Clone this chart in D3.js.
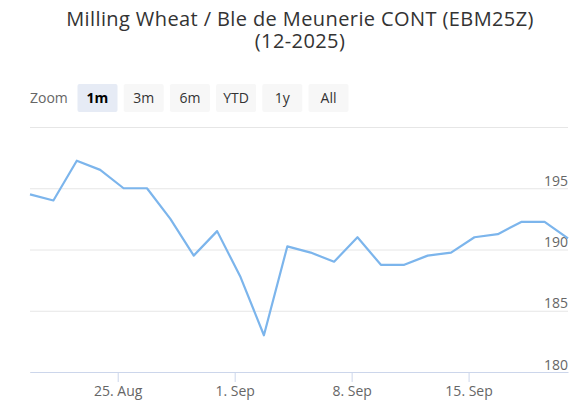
<!DOCTYPE html>
<html>
<head>
<meta charset="utf-8">
<script src="https://cdn.jsdelivr.net/npm/d3@7/dist/d3.min.js"></script>
<style>
  body { margin: 0; background: #fff; }
  svg { font-family: "Open Sans", "Noto Sans", sans-serif; display: block; }
</style>
</head>
<body>
<div id="chart"></div>
<script>
var width = 583;
var height = 403;

// trading days (closing at 18:00), ordinal x axis skips weekends
var dates = ["2025-08-19", "2025-08-20", "2025-08-21", "2025-08-22",
  "2025-08-25", "2025-08-26", "2025-08-27", "2025-08-28", "2025-08-29",
  "2025-09-01", "2025-09-02", "2025-09-03", "2025-09-04", "2025-09-05",
  "2025-09-08", "2025-09-09", "2025-09-10", "2025-09-11", "2025-09-12",
  "2025-09-15", "2025-09-16", "2025-09-17", "2025-09-18", "2025-09-19"];
var prices = [194.5, 194.0, 197.25, 196.5, 195.0, 195.0, 192.5, 189.5, 191.5,
  187.75, 183.0, 190.25, 189.75, 189.0, 191.0, 188.75, 188.75, 189.5, 189.75,
  191.0, 191.25, 192.25, 192.25, 190.9];
var yTicks = [180, 185, 190, 195, 200];
var yLabels = [180, 185, 190, 195];
var buttons = ["1m", "3m", "6m", "YTD", "1y", "All"];
var selectedButton = "1m";
var titleLines = ["Milling Wheat / Ble de Meunerie CONT (EBM25Z)", "(12-2025)"];

var margin = {left: 30, right: 15, top: 127, bottom: 31};

var parseTime = d3.timeParse("%Y-%m-%d %H:%M");
var times = dates.map(function(d) { return parseTime(d + " 18:00"); });

var svg = d3.select("#chart").append("svg")
    .attr("width", width)
    .attr("height", height);

// title, one text per line
svg.selectAll(".title")
    .data(titleLines)
  .enter().append("text")
    .attr("class", "title")
    .attr("x", 300)
    .attr("y", function(d, i) { return 26 + i * 22; })
    .attr("text-anchor", "middle")
    .style("font-size", "20px")
    .style("letter-spacing", "0.4px")
    .style("fill", "#333333")
    .text(function(d) { return d; });

// range selector
svg.append("text")
    .attr("x", 30)
    .attr("y", 98)
    .attr("dy", ".35em")
    .style("font-size", "14px")
    .style("fill", "#666666")
    .text("Zoom");

var btn = svg.selectAll(".btn")
    .data(buttons)
  .enter().append("g")
    .attr("class", "btn")
    .attr("transform", function(d, i) { return "translate(" + (77.5 + i * 46.2) + ",84)"; });

btn.append("rect")
    .attr("width", 40)
    .attr("height", 28)
    .attr("rx", 2)
    .attr("fill", function(d) { return d == selectedButton ? "#e6ebf5" : "#f7f7f7"; });

btn.append("text")
    .attr("x", 20)
    .attr("y", 14)
    .attr("dy", ".35em")
    .attr("text-anchor", "middle")
    .style("font-size", "14px")
    .style("font-weight", function(d) { return d == selectedButton ? "bold" : "normal"; })
    .style("fill", function(d) { return d == selectedButton ? "#000000" : "#333333"; })
    .text(function(d) { return d; });

// scales
var x = d3.scaleLinear()
    .domain([0, prices.length - 1])
    .range([margin.left, width - margin.right]);

var y = d3.scaleLinear()
    .domain([180, 200])
    .range([height - margin.bottom, margin.top]);

// ordinal position of each Monday midnight between the closes
var mondays = d3.timeMonday.range(times[0], times[times.length - 1]);
var tickPos = mondays.map(function(m) {
  var i = d3.bisectLeft(times, m) - 1;
  return i + (m - times[i]) / (times[i + 1] - times[i]);
});
var fmt = d3.timeFormat("%-d. %b");

// grid + y labels
var yAxis = svg.append("g")
    .attr("transform", "translate(" + (width - margin.right) + ",0)")
    .call(d3.axisLeft(y)
      .tickValues(yTicks)
      .tickSize(width - margin.left - margin.right)
      .tickFormat(function(d) { return yLabels.indexOf(d) >= 0 ? d : ""; }));
yAxis.select(".domain").remove();
yAxis.selectAll("line").attr("stroke", "#e6e6e6");
yAxis.selectAll("text")
    .attr("x", 0)
    .attr("dy", "-3px")
    .attr("text-anchor", "end")
    .style("font-size", "14px")
    .style("font-family", "\"Open Sans\", sans-serif")
    .style("fill", "#666666");

// x axis
var xAxis = svg.append("g")
    .attr("transform", "translate(0," + (height - margin.bottom) + ")")
    .call(d3.axisBottom(x)
      .tickValues(tickPos)
      .tickSize(10)
      .tickSizeOuter(0)
      .tickPadding(4)
      .tickFormat(function(d, i) { return fmt(mondays[i]); }));
xAxis.select(".domain").attr("stroke", "#ccd6eb");
xAxis.selectAll("line").attr("stroke", "#ccd6eb");
xAxis.selectAll("text")
    .style("font-size", "14px")
    .style("font-family", "\"Open Sans\", sans-serif")
    .style("fill", "#666666");

// price line
var line = d3.line()
    .x(function(d, i) { return x(i); })
    .y(function(d) { return y(d); });

svg.append("path")
    .datum(prices)
    .attr("fill", "none")
    .attr("stroke", "#7cb5ec")
    .attr("stroke-width", 2.2)
    .attr("stroke-linejoin", "round")
    .attr("d", line);
</script>
</body>
</html>
